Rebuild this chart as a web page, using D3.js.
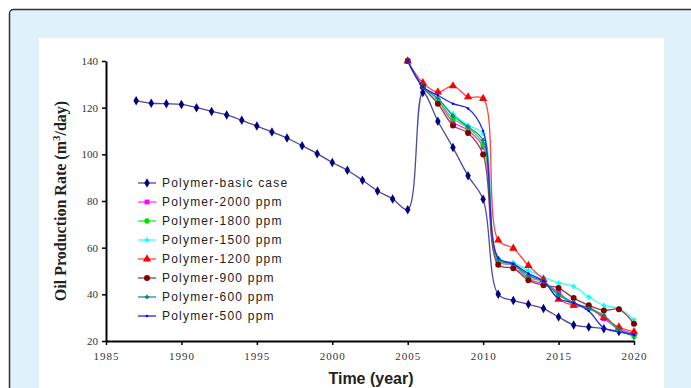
<!DOCTYPE html>
<meta charset="utf-8">
<title>Oil production rate</title>
<style>
  body { margin: 0; background: #fff; }
  svg text { fill: #222; }
</style>
<body>
<script src="https://d3js.org/d3.v7.min.js"></script>
<script>
// values
const basicYears = d3.range(1987, 2021);
const basicCase = [123, 121.9, 121.7, 121.4, 120, 118.4, 116.9, 114.6, 112.1, 109.6, 107, 103.7,
  100.3, 96.5, 93.2, 88.9, 84.3, 80.9, 76.3, 126.5, 114.2, 102.9, 90.8, 80.7,
  40, 37.4, 35.7, 33.9, 30.3, 26.9, 26, 25.3, 24.1, 22.4];
const polyYears = d3.range(2005, 2021);
const p2000 = [140, 129, 123, 113.9, 110.3, 103.1, 54, 52.5, 46.5, 44.6, 41, 35.3, 34.6, 29.6, 25.3, 23.1];
const p1800 = [140, 129, 123.1, 115.3, 111.3, 104.3, 54.3, 52.7, 47.1, 45.4, 39.6, 36, 33.9, 30.3, 24.6, 22.1];
const p1500 = [140, 129, 123.5, 117.4, 112.4, 108.9, 55.3, 53.6, 50.3, 47.4, 44.9, 43.4, 38.9, 35.3, 33.9, 29.1];
const p1200 = [140, 130.7, 126.7, 129.3, 124.6, 123.9, 63.2, 59.7, 52.3, 46.3, 37.9, 35.3, 34.3, 30, 26, 23.9];
const p900 = [140, 128.9, 121.7, 112.4, 109.1, 99.9, 52.7, 51.2, 46, 43.9, 42.7, 38.4, 35.3, 33.1, 33.6, 27.4];
const p600 = [140, 129, 124, 116.5, 111.8, 106, 55, 53, 48, 45.5, 40, 36.5, 34, 31, 25, 22.5];
const p500 = [140, 129, 125.3, 121.7, 119.6, 110, 55.7, 53.1, 48.9, 45.7, 38.1, 36.3, 32.9, 25.6, 23.9, 22.7];
const seriesNames = ["Polymer-basic case", "Polymer-2000 ppm", "Polymer-1800 ppm", "Polymer-1500 ppm",
  "Polymer-1200 ppm", "Polymer-900 ppm", "Polymer-600 ppm", "Polymer-500 ppm"];
const xTicks = [1985, 1990, 1995, 2000, 2005, 2010, 2015, 2020];
const yTicks = [20, 40, 60, 80, 100, 120, 140];

const series = [
  {name: seriesNames[0], years: basicYears, vals: basicCase, color: "#000080", line: "#4b4b9e", sym: d3.symbolDiamond, size: 26},
  {name: seriesNames[1], years: polyYears, vals: p2000, color: "#ff00ff", line: "#ff33ff", sym: d3.symbolSquare, size: 24},
  {name: seriesNames[2], years: polyYears, vals: p1800, color: "#00dd00", line: "#22ee22", sym: d3.symbolCircle, size: 22},
  {name: seriesNames[3], years: polyYears, vals: p1500, color: "#00ffff", line: "#33ffff", sym: d3.symbolCross, size: 14},
  {name: seriesNames[4], years: polyYears, vals: p1200, color: "#ff0000", line: "#ff4444", sym: d3.symbolTriangle, size: 30},
  {name: seriesNames[5], years: polyYears, vals: p900, color: "#800000", line: "#984040", sym: d3.symbolCircle, size: 28},
  {name: seriesNames[6], years: polyYears, vals: p600, color: "#008080", line: "#209090", sym: d3.symbolCross, size: 12},
  {name: seriesNames[7], years: polyYears, vals: p500, color: "#0000ff", line: "#2222ff", sym: d3.symbolCircle, size: 5}
];

const W = 691, H = 388;
const svg = d3.select("body").append("svg").attr("width", W).attr("height", H);

// frame: light blue panel with a white card
svg.append("rect").attr("x", 9.5).attr("y", 9.5).attr("width", 720).attr("height", 420)
  .attr("rx", 4).attr("fill", "#dff1fb").attr("stroke", "#333").attr("stroke-width", 1.5);
svg.append("rect").attr("x", 39).attr("y", 38).attr("width", 625).attr("height", 360).attr("fill", "#fff");

const x = d3.scaleLinear().domain([1985, 2020]).range([106, 634]);
const y = d3.scaleLinear().domain([20, 140]).range([341, 61]);

const xAxis = svg.append("g").attr("transform", "translate(0,341)")
  .call(d3.axisBottom(x).tickValues(xTicks).tickFormat(d3.format("d")).tickSize(4).tickSizeOuter(0));
const yAxis = svg.append("g").attr("transform", "translate(106,0)")
  .call(d3.axisLeft(y).tickValues(yTicks).tickSize(4).tickSizeOuter(0));
[xAxis, yAxis].forEach(g => {
  g.select(".domain").attr("stroke", "#000").attr("stroke-width", 2);
  g.selectAll(".tick line").attr("stroke", "#000").attr("stroke-width", 1.5);
  g.selectAll("text").attr("font-family", "Liberation Serif, serif").attr("font-size", 11)
    .style("fill", "#333");
});
xAxis.selectAll("text").attr("dy", "1.1em").attr("letter-spacing", 1);
yAxis.selectAll("text").attr("x", -8);

// axis titles
svg.append("text").attr("x", 371).attr("y", 384).attr("text-anchor", "middle")
  .attr("font-family", "Liberation Sans, Arial, sans-serif").attr("font-weight", "bold")
  .attr("font-size", 16).text("Time (year)");
const yt = svg.append("text").attr("transform", "translate(66,201) rotate(-90)")
  .attr("text-anchor", "middle").attr("font-family", "Liberation Serif, serif")
  .attr("font-weight", "bold").attr("font-size", 16);
yt.append("tspan").text("Oil Production Rate (m");
yt.append("tspan").attr("baseline-shift", "super").attr("font-size", 11).text("3");
yt.append("tspan").text("/day)");

const line = d3.line().x(d => x(d[0])).y(d => y(d[1])).curve(d3.curveCatmullRom.alpha(0.5));

series.forEach(s => {
  const pts = s.years.map((yr, i) => [yr, s.vals[i]]);
  svg.append("path").datum(pts).attr("d", line).attr("fill", "none")
    .attr("stroke", s.line).attr("stroke-width", 1.3);
  svg.append("g").selectAll("path").data(pts).join("path")
    .attr("transform", d => `translate(${x(d[0])},${y(d[1])})`)
    .attr("d", d3.symbol().type(s.sym).size(s.size)).attr("fill", s.color);
});

// legend
const leg = svg.append("g").attr("transform", "translate(138,183)");
series.forEach((s, i) => {
  const g = leg.append("g").attr("transform", `translate(0,${i * 19})`);
  g.append("line").attr("x1", 0).attr("x2", 18).attr("stroke", s.line).attr("stroke-width", 1.3);
  g.append("path").attr("transform", "translate(9,0)")
    .attr("d", d3.symbol().type(s.sym).size(s.size)).attr("fill", s.color);
  g.append("text").attr("x", 24).attr("dy", "0.35em")
    .attr("font-family", "Liberation Sans, Arial, sans-serif").attr("font-size", 12)
    .attr("letter-spacing", 1.2).text(s.name);
});
</script>
</body>
